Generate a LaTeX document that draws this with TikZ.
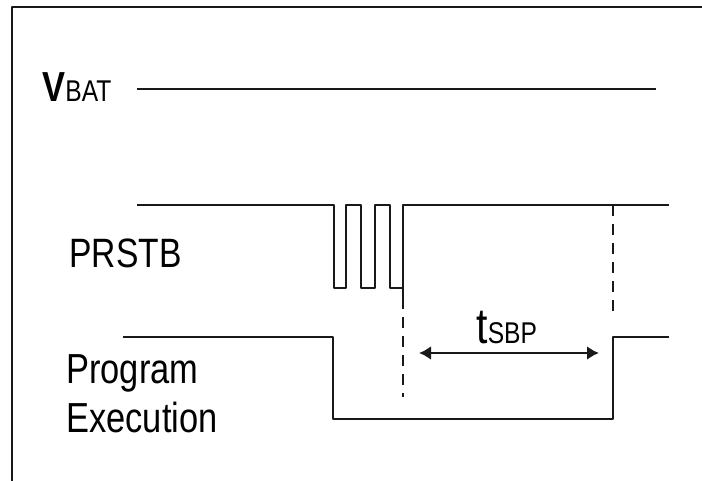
\documentclass[tikz,border=0pt]{standalone}
\usepackage{fontspec}
\setmainfont{Liberation Sans}[FakeStretch=0.82]
\usetikzlibrary{arrows.meta}
\begin{document}
\begin{tikzpicture}[x=0.5pt,y=-0.5pt]
			\tikzstyle{every node}+=[inner sep=0pt, anchor=base west]
			\tikzstyle{wave}=[black!90, line width=1.2pt, line join=round]
			\tikzstyle{marker}=[black!90, line width=1.2pt, dash pattern=on 5.5pt off 4pt]
			\useasboundingbox (0,0) rectangle (702,481);
			% frame
			\draw [wave] (702,7) -- (12,7) -- (12,481);
			% supply
			\node (vbat) at (42,102) {{\fontsize{21}{20}\selectfont\bfseries V}{\fontsize{15}{15}\selectfont BAT}};
			\draw [wave] (137,89) -- (656,89);
			% reset pin
			\node (prstb) at (69,267) {\fontsize{20.5}{20}\selectfont PRSTB};
			\draw [wave] (137,205) -- (334,205) -- (334,288) -- (346,288) -- (346,205)
				-- (361,205) -- (361,288) -- (375,288) -- (375,205)
				-- (390,205) -- (390,288) -- (403,288);
			\draw [wave] (403,298) -- (403,205) -- (669,205);
			% program
			\node (prog) at (66,383) {\fontsize{21}{20}\selectfont Program};
			\node (exec) at (66,432) {\fontsize{21}{20}\selectfont Execution};
			\draw [wave] (123,337) -- (333,337) -- (333,419) -- (613,419) -- (613,337) -- (669,337);
			% timing
			\draw [marker] (403,298) -- (403,397);
			\draw [marker] (613,205) -- (613,315);
			\coordinate (sbpL) at (419,353);
			\coordinate (sbpR) at (599,353);
			\draw [black!90, line width=1.2pt, {Latex[length=6pt,width=7pt]}-{Latex[length=6pt,width=7pt]}] (sbpL) -- (sbpR);
			\node (tsbp) at (476,343) {{\fontsize{25}{24}\selectfont t}{\fontsize{15}{15}\selectfont SBP}};
\end{tikzpicture}
\end{document}
